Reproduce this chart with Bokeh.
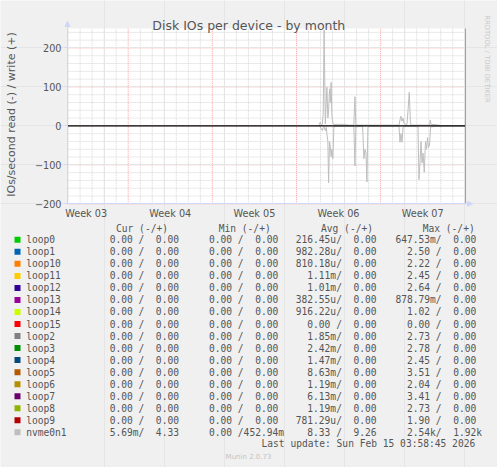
import math
from bokeh.plotting import figure
from bokeh.models import Range1d, FixedTicker, LinearAxis, Arrow, NormalHead, ColumnDataSource
from bokeh.embed import file_html
from bokeh.resources import INLINE
from bokeh.core.properties import value

# ---------------- data ----------------
TITLE = "Disk IOs per device - by month"
Y_LABEL = "IOs/second read (-) / write (+)"
WATERMARK = "RRDTOOL / TOBI OETIKER"
FOOTER = "Munin 2.0.73"
LAST_UPDATE = "Last update: Sun Feb 15 03:58:45 2026"

# time axis: days since Monday 12 Jan 2026 (start of ISO week 03)
WEEK_LABELS = ["Week 03", "Week 04", "Week 05", "Week 06", "Week 07"]
WEEK_CENTERS = [3.5, 10.5, 17.5, 24.5, 31.5]
WEEK_STARTS = [7, 14, 21, 28, 35]
DAY_TICKS = [d for d in range(2, 36) if d % 7]
X_START, X_END = 1.95, 35.06

Y_TICKS = [-200, -100, 0, 100, 200]
Y_MINOR = [v for v in range(-200, 251, 20) if v % 100]
Y_MIN, Y_MAX = -200, 250

# nvme0n1 write (+) series
write_t = [22.88, 22.97, 23.07, 23.15, 23.22, 23.30, 23.40, 23.47, 23.53, 23.61, 23.67,
           23.75, 23.82, 23.88, 23.94, 24.03, 24.11, 24.5, 24.94, 25.3, 25.69, 25.77,
           25.86, 25.94, 26.03, 26.5, 27.0, 28.0, 29.0, 29.53, 29.61, 29.69, 29.78, 29.86,
           29.94, 30.05, 30.19, 30.28, 30.38, 30.48, 30.53, 31.0, 31.5, 32.07, 32.13, 32.19,
           32.61, 33.0, 34.0, 35.06]
write_v = [3, 9, 2, 4, 30, 246, 5, 60, 99, 20, 40,
           95, 60, 112, 30, 5, 4, 4, 4, 2, 2, 3,
           75, 3, 2, 2, 2, 2, 2, 2, 15, 25, 12, 20,
           6, 4, 4, 40, 86, 8, 2, 2, 2, 2, 15, 4,
           3, 1, 1, 1]

# nvme0n1 read (-) series
read_t = [22.88, 22.97, 23.07, 23.15, 23.22, 23.30, 23.40, 23.47, 23.53, 23.61, 23.67,
          23.75, 23.82, 23.88, 23.94, 24.03, 24.11, 24.5, 25.0, 25.5, 25.77, 25.86,
          25.94, 26.5, 26.61, 26.70, 26.78, 26.86, 26.94, 27.03, 28.0, 29.0, 29.53,
          29.61, 29.69, 29.78, 29.86, 29.94, 30.5, 31.11, 31.19, 31.28, 31.36, 31.44,
          31.53, 31.63, 31.73, 31.82, 31.90, 31.98, 32.07, 32.15, 32.61, 33.5, 35.06]
read_v = [0, 2, 8, 12, 5, 3, 12, 4, 20, 40, 146,
          40, 55, 79, 60, 84, 2, 1, 1, 1, 1, 103,
          2, 1, 84, 60, 70, 144, 5, 1, 1, 1, 1,
          42, 20, 42, 5, 1, 1, 1, 138, 90, 40, 95,
          70, 119, 40, 60, 30, 55, 50, 3, 1, 0.5, 0.5]

# legend table
NAMES = ["loop0", "loop1", "loop10", "loop11", "loop12", "loop13", "loop14", "loop15",
         "loop2", "loop3", "loop4", "loop5", "loop6", "loop7", "loop8", "loop9", "nvme0n1"]
COLORS = ["#00CC00", "#0066B3", "#FF8000", "#FFCC00", "#330099", "#990099", "#CCFF00",
          "#FF0000", "#808080", "#008F00", "#00487D", "#B35A00", "#B38F00", "#6B006B",
          "#8FB300", "#B30000", "#BEBEBE"]
CUR_READ = ["0.00"] * 16 + ["5.69m"]
CUR_WRITE = ["0.00"] * 16 + ["4.33"]
MIN_READ = ["0.00"] * 17
MIN_WRITE = ["0.00"] * 16 + ["452.94m"]
AVG_READ = ["216.45u", "982.28u", "810.18u", "1.11m", "1.01m", "382.55u", "916.22u", "0.00",
            "1.85m", "2.42m", "1.47m", "8.63m", "1.19m", "6.13m", "1.19m", "781.29u", "8.33"]
AVG_WRITE = ["0.00"] * 16 + ["9.26"]
MAX_READ = ["647.53m", "2.50", "2.22", "2.45", "2.64", "878.79m", "1.02", "0.00",
            "2.73", "2.78", "2.45", "3.51", "2.04", "3.41", "2.73", "1.90", "2.54k"]
MAX_WRITE = ["0.00"] * 16 + ["1.92k"]
HEADERS = ["Cur (-/+)", "Min (-/+)", "Avg (-/+)", "Max (-/+)"]

# ---------------- layout / style ----------------
BG = "#f0f0f0"
TXT = "#555555"
AXIS = "#cfd6f8"
MGRID = "#ffa1a1"
GRID = "#d5d5d5"
SANS = "DejaVu Sans"
MONO = "DejaVu Sans Mono"

W, H = 497, 467
PL, PR, PT, PB = 67.0, 465.0, 28.0, 203.3          # chart area in page pixels
SX = (PR - PL) / (X_END - X_START)                  # px per day
SY = (PB - PT) / (Y_MAX - Y_MIN)                    # px per unit


def dx(px):
    return X_START + (px - PL) / SX


def dy(py):
    return Y_MIN + (PB - py) / SY


p = figure(width=W, height=H, output_backend="svg", toolbar_location=None, title=None,
           x_range=Range1d(dx(0), dx(W)), y_range=Range1d(dy(H), dy(0)),
           x_axis_location=None, y_axis_location=None, min_border=0,
           background_fill_color=BG, border_fill_color=BG, outline_line_color=None)

# chart canvas and grid
p.quad(left=X_START, right=X_END, bottom=Y_MIN, top=Y_MAX, fill_color="white",
       line_color=None, level="underlay")
p.segment(x0=DAY_TICKS, y0=Y_MIN, x1=DAY_TICKS, y1=Y_MAX, line_color=GRID,
          line_dash="1 1", line_width=1, level="underlay")
p.segment(x0=X_START, y0=Y_MINOR, x1=X_END, y1=Y_MINOR, line_color=GRID,
          line_dash="1 1", line_width=1, level="underlay")
p.segment(x0=WEEK_STARTS, y0=Y_MIN, x1=WEEK_STARTS, y1=Y_MAX, line_color=MGRID,
          line_dash="1 1", line_width=1, level="underlay")
p.segment(x0=X_START, y0=Y_TICKS, x1=X_END, y1=Y_TICKS, line_color=MGRID,
          line_dash="1 1", line_width=1, level="underlay")

# data lines (read plotted downward)
p.line(write_t, write_v, line_color=COLORS[-1], line_width=1)
p.line(read_t, [-v for v in read_v], line_color=COLORS[-1], line_width=1)

# zero rule and right edge
p.segment(x0=[X_START], y0=[0], x1=[X_END], y1=[0], line_color="black", line_width=1.2)
p.segment(x0=[X_END], y0=[Y_MIN], x1=[X_END], y1=[Y_MAX], line_color="#a0a0a0",
          line_width=1)

# axes
xa = LinearAxis(fixed_location=Y_MIN, bounds=(X_START, X_END))
xa.ticker = FixedTicker(ticks=WEEK_CENTERS)
xa.major_label_overrides = {c: l for c, l in zip(WEEK_CENTERS, WEEK_LABELS)}
xa.axis_line_color = AXIS
xa.major_tick_line_color = None
xa.minor_tick_line_color = None
xa.major_tick_out = 0
xa.major_tick_in = 0
xa.major_label_standoff = 4
xa.major_label_text_font = SANS
xa.major_label_text_font_size = "9.7px"
xa.major_label_text_color = TXT
p.add_layout(xa, "below")

ya = LinearAxis(fixed_location=X_START, bounds=(Y_MIN, Y_MAX))
ya.ticker = FixedTicker(ticks=Y_TICKS)
ya.axis_line_color = AXIS
ya.major_tick_line_color = AXIS
ya.minor_tick_line_color = None
ya.major_tick_out = 3
ya.major_tick_in = 0
ya.major_label_standoff = 3
ya.major_label_text_font = SANS
ya.major_label_text_font_size = "9.7px"
ya.major_label_text_color = TXT
p.add_layout(ya, "left")

p.add_layout(Arrow(x_start=X_END, y_start=Y_MIN, x_end=dx(PR + 7), y_end=Y_MIN,
                   line_color=AXIS, line_width=1,
                   end=NormalHead(size=5, fill_color=AXIS, line_color=AXIS)))
p.add_layout(Arrow(x_start=X_START, y_start=Y_MAX, x_end=X_START, y_end=dy(PT - 7),
                   line_color=AXIS, line_width=1,
                   end=NormalHead(size=5, fill_color=AXIS, line_color=AXIS)))

# titles
p.text(x=[dx(248.3)], y=[dy(24.8)], text=[TITLE], text_font=value(SANS),
       text_font_size="12.5px", text_color=TXT, text_align="center",
       text_baseline="alphabetic")
p.text(x=[dx(11)], y=[dy(114)], text=[Y_LABEL], angle=math.pi / 2, text_font=value(SANS),
       text_font_size="11px", text_color=TXT, text_align="center", text_baseline="middle")
p.text(x=[dx(486.7)], y=[dy(58.5)], text=[WATERMARK], angle=-math.pi / 2,
       text_font=value(SANS), text_font_size="6.8px", text_color="#c8c8c8",
       text_align="center", text_baseline="middle")

# ---------------- legend table ----------------
NB = "\u00a0"


def pad(s):
    return (s if s[-1].isalpha() else s + " ").rjust(7)


def cell(r, w):
    return (pad(r) + "/" + pad(w)).replace(" ", NB)


ROW0, ROWH = 239.3, 12.03
rows_py = [ROW0 + ROWH * i for i in range(len(NAMES))]
rows_y = [dy(v) for v in rows_py]
COL_PX = [97.6, 196.9, 295.2, 394.9]
HEAD_PX = [115.5, 218.2, 320.5, 422.2]

p.scatter(x=dx(17), y=rows_y, marker="square", size=6, fill_color=COLORS, line_color=None)

tx, ty, tt = [], [], []
cols = [(CUR_READ, CUR_WRITE), (MIN_READ, MIN_WRITE), (AVG_READ, AVG_WRITE),
        (MAX_READ, MAX_WRITE)]
for i, n in enumerate(NAMES):
    tx.append(dx(25.7)); ty.append(rows_y[i]); tt.append(n)
    for cpx, (r, w) in zip(COL_PX, cols):
        tx.append(dx(cpx)); ty.append(rows_y[i]); tt.append(cell(r[i], w[i]))
for hpx, h in zip(HEAD_PX, HEADERS):
    tx.append(dx(hpx)); ty.append(dy(227.6)); tt.append(h)
tx.append(dx(261.0)); ty.append(dy(443.3)); tt.append(LAST_UPDATE)

src = ColumnDataSource(dict(x=tx, y=ty, text=tt))
p.text(x="x", y="y", text="text", source=src, text_font=value(MONO),
       text_font_size="9.6px", text_color=TXT, text_baseline="middle", text_align="left")
p.text(x=[dx(248)], y=[dy(456)], text=[FOOTER], text_font=value(SANS),
       text_font_size="7px", text_color="#c4c4c4", text_baseline="middle",
       text_align="center")

open("out.html", "w").write(file_html(p, INLINE))
